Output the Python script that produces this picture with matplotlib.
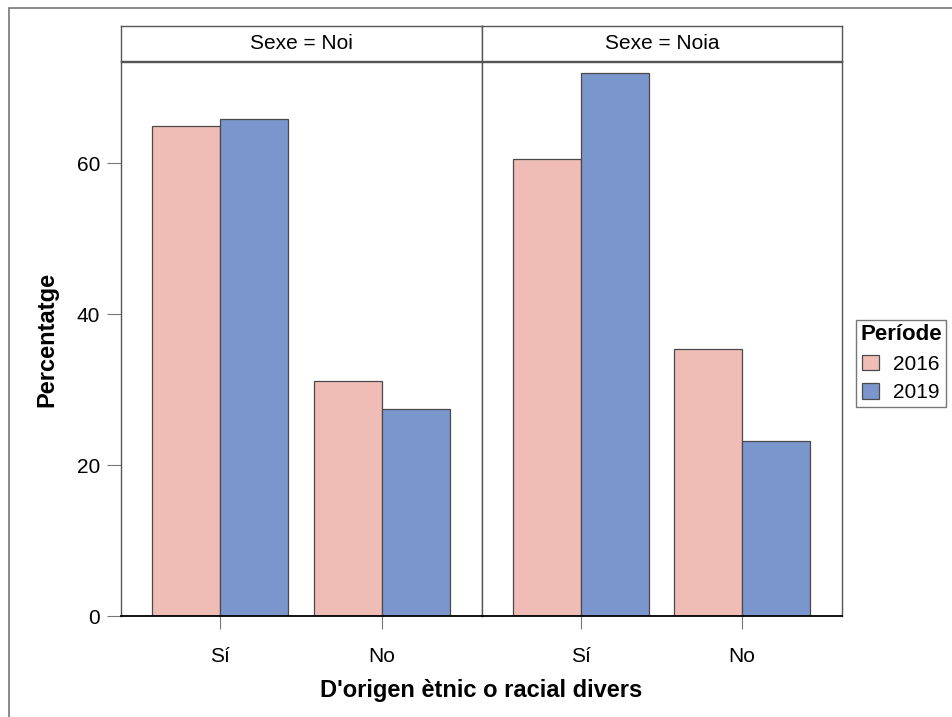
import numpy as np
import matplotlib
matplotlib.use("Agg")
import matplotlib.pyplot as plt
from matplotlib.patches import Patch, Rectangle

plt.rcParams["font.family"] = ["Liberation Sans", "DejaVu Sans"]

# Data (percentages)
categories = ["Sí", "No"]
panels = ["Sexe = Noi", "Sexe = Noia"]
periods = ["2016", "2019"]
noi_2016 = [64.9, 31.1]
noi_2019 = [65.9, 27.4]
noia_2016 = [60.5, 35.4]
noia_2019 = [72.0, 23.2]

values = [[noi_2016, noi_2019], [noia_2016, noia_2019]]
colors = ["#EFBDB6", "#7B96CC"]
edge = "#4a4a4a"

W, H = 952, 717
fig = plt.figure(figsize=(W / 100, H / 100), dpi=100)

# outer frame (only left/top visible)
fig.patches.append(Rectangle((9 / W, -0.5), 2, 1.5 - 8 / H, transform=fig.transFigure,
                             fill=False, edgecolor="#777777", linewidth=1.2))

panel_x = [(121, 482), (482, 842)]
top, bottom = 62, 616
strip_top, strip_bot = 26, 61
x = np.arange(len(categories))
width = 0.42

for i, (x0, x1) in enumerate(panel_x):
    ax = fig.add_axes([x0 / W, 1 - bottom / H, (x1 - x0) / W, (bottom - top) / H])
    for j, per in enumerate(periods):
        ax.bar(x + (j - 0.5) * width, values[i][j], width, color=colors[j],
               edgecolor=edge, linewidth=0.9)
    ax.set_xlim(-0.615, 1.62)
    ax.set_ylim(0, 73.4)
    ax.set_xticks(x)
    ax.set_xticklabels(categories, fontsize=15)
    ax.tick_params(axis="x", length=9, color="#777777", pad=13)
    for s in ax.spines.values():
        s.set_color("#555555")
        s.set_linewidth(1.0)
    ax.spines["bottom"].set_color("black")
    ax.spines["bottom"].set_linewidth(1.3)
    if i == 0:
        ax.set_yticks([0, 20, 40, 60])
        ax.tick_params(axis="y", length=10, color="#777777", labelsize=15, pad=5)
        ax.set_ylabel("Percentatge", fontsize=17, fontweight="bold", labelpad=13)
    else:
        ax.set_yticks([])

    sx = fig.add_axes([x0 / W, 1 - strip_bot / H, (x1 - x0) / W, (strip_bot - strip_top) / H])
    sx.set_xticks([])
    sx.set_yticks([])
    for s in sx.spines.values():
        s.set_color("#555555")
        s.set_linewidth(1.0)
    sx.text(0.5, 0.5, panels[i], ha="center", va="center", fontsize=15, transform=sx.transAxes)

fig.text(481 / W, 1 - 690 / H, "D'origen ètnic o racial divers", ha="center", va="center",
         fontsize=17, fontweight="bold")

handles = [Patch(facecolor=colors[k], edgecolor=edge, linewidth=0.9, label=periods[k])
           for k in range(2)]
leg = fig.legend(handles=handles, title="Període", loc="upper left",
                 bbox_to_anchor=(856 / W, 1 - 320 / H), fontsize=15, title_fontsize=16,
                 frameon=True, fancybox=False, edgecolor="#555555", borderpad=0.2,
                 handlelength=0.8, handleheight=0.8, handletextpad=0.7, labelspacing=0.45,
                 borderaxespad=0)
leg.get_title().set_fontweight("bold")
leg.get_frame().set_linewidth(1.0)

fig.savefig("out.png", dpi=100)
